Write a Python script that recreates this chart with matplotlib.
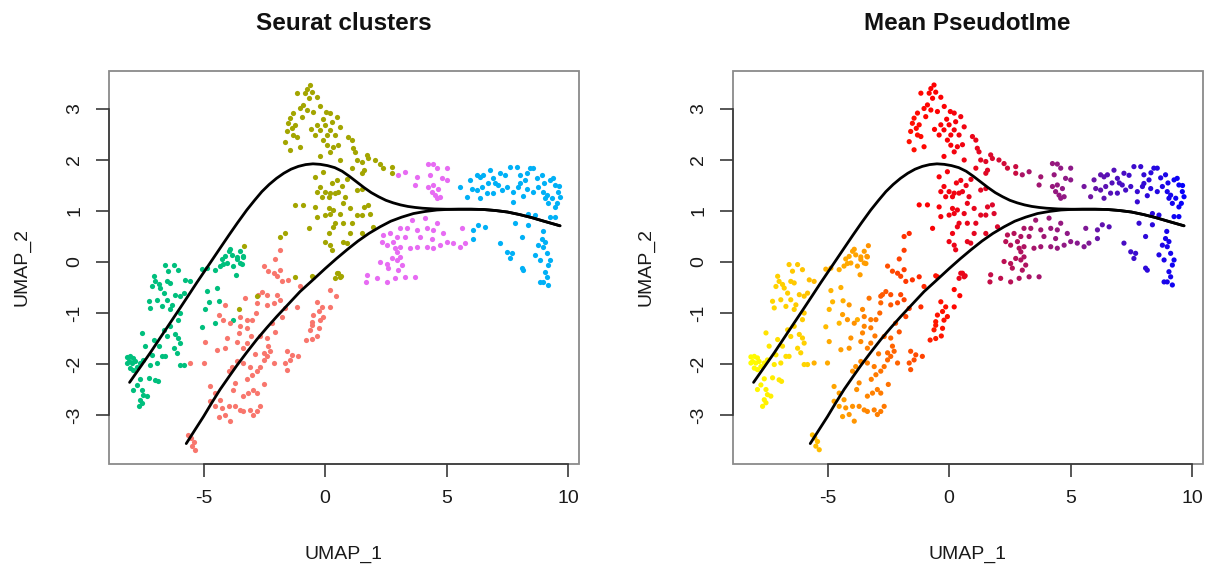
import numpy as np
import matplotlib
matplotlib.use("Agg")
import matplotlib.pyplot as plt
from matplotlib.colors import LinearSegmentedColormap

plt.rcParams['font.family'] = ['Liberation Sans', 'DejaVu Sans']
plt.rcParams['axes.unicode_minus'] = False

# UMAP coordinates per Seurat cluster: (UMAP_1, UMAP_2, mean pseudotime)
green_pts = [
    (-3.97, 0.21, 5.0), (-4.11, 0.11, 4.8), (-3.84, 0.14, 5.0), (-3.63, 0.05, 5.2),
    (-4.25, 0.06, 4.8), (-4.04, -0.02, 4.9), (-3.49, -0.02, 5.3), (-3.38, 0.11, 5.3),
    (-3.77, -0.08, 5.1), (-4.32, -0.08, 4.7), (-4.52, -0.15, 4.6), (-4.86, -0.12, 4.4),
    (-5.07, -0.14, 4.3), (-3.66, -0.25, 5.2), (-3.90, 0.25, 5.1), (-3.49, 0.21, 5.3),
    (-3.63, 0.10, 5.2), (-3.36, 0.10, 5.4), (-3.42, -0.03, 5.3), (-4.18, -0.03, 4.8),
    (-6.58, -0.05, 3.0), (-6.23, -0.05, 3.2), (-6.03, -0.15, 3.3), (-6.44, -0.18, 3.0),
    (-7.05, -0.28, 2.6), (-6.99, -0.38, 2.6), (-6.85, -0.44, 2.7), (-6.51, -0.38, 2.9),
    (-6.37, -0.41, 3.0), (-5.75, -0.35, 3.6), (-5.55, -0.38, 3.8), (-7.12, -0.48, 2.5),
    (-6.78, -0.51, 2.7), (-6.64, -0.61, 2.8), (-6.16, -0.64, 3.1), (-5.96, -0.67, 3.3),
    (-5.82, -0.61, 3.4), (-6.51, -0.74, 2.8), (-6.92, -0.74, 2.6), (-7.26, -0.77, 2.4),
    (-6.71, -0.87, 2.6), (-6.30, -0.84, 2.9), (-7.19, -0.90, 2.3), (-6.37, -0.93, 2.8),
    (-5.96, -1.00, 3.0), (-6.03, -1.13, 2.9), (-6.37, -1.26, 2.6), (-6.64, -1.33, 2.4),
    (-4.86, -0.56, 4.2), (-4.45, -0.50, 4.5), (-4.36, -0.76, 4.4), (-4.79, -0.78, 4.1),
    (-4.93, -0.93, 4.0), (-5.07, -1.27, 3.8), (-4.52, -1.20, 4.1), (-3.77, -1.13, 4.6),
    (-7.53, -1.39, 1.6), (-7.40, -1.65, 1.4), (-7.05, -1.52, 1.8), (-6.85, -1.65, 1.9),
    (-6.51, -1.46, 2.2), (-6.16, -1.42, 2.5), (-6.03, -1.49, 2.6), (-5.96, -1.59, 2.6),
    (-6.23, -1.69, 2.3), (-6.58, -1.85, 2.0), (-6.71, -1.85, 1.9), (-6.10, -1.78, 2.4),
    (-5.96, -2.01, 2.4), (-5.82, -2.01, 2.5), (-6.92, -1.98, 1.6), (-8.15, -1.86, 0.2),
    (-8.01, -1.85, 0.3), (-7.88, -1.88, 0.4), (-8.08, -1.95, 0.2), (-7.95, -1.98, 0.3),
    (-7.81, -1.95, 0.5), (-7.74, -2.05, 0.5), (-8.15, -1.98, 0.1), (-7.60, -1.98, 0.7),
    (-7.47, -1.92, 0.8), (-8.01, -2.08, 0.3), (-7.88, -2.11, 0.4), (-7.19, -2.01, 1.2),
    (-7.12, -1.82, 1.3), (-6.99, -2.31, 1.3), (-6.89, -2.34, 1.4), (-7.26, -2.27, 1.0),
    (-7.60, -2.29, 0.7), (-7.74, -2.41, 0.6), (-7.88, -2.50, 0.5), (-7.53, -2.50, 0.8),
    (-7.47, -2.60, 0.8), (-7.60, -2.70, 0.7), (-7.53, -2.76, 0.8), (-7.33, -2.63, 0.9),
    (-7.67, -2.83, 0.6),
]

salmon_pts = [
    (-1.85, 0.23, 8.2), (-2.05, 0.06, 8.0), (-2.53, -0.08, 7.6), (-2.33, -0.18, 7.8),
    (-2.12, -0.22, 8.0), (-1.85, -0.15, 8.2), (-1.99, -0.28, 8.0), (-1.78, -0.38, 8.3),
    (-1.51, -0.35, 8.5), (-2.60, -0.58, 7.4), (-2.74, -0.64, 7.2), (-2.40, -0.64, 7.6),
    (-1.99, -0.64, 7.9), (-1.85, -0.74, 8.0), (-2.12, -0.80, 7.7), (-2.40, -0.84, 7.4),
    (-2.81, -0.80, 7.0), (-3.29, -0.71, 6.5), (-4.11, -0.84, 5.4), (-4.38, -1.03, 5.2),
    (-4.18, -1.13, 5.4), (-3.90, -1.20, 5.7), (-3.49, -1.07, 6.1), (-3.22, -1.13, 6.3),
    (-3.01, -1.13, 6.5), (-3.49, -1.26, 6.0), (-3.22, -1.29, 6.3), (-3.56, -1.39, 6.0),
    (-4.04, -1.49, 5.6), (-3.63, -1.56, 5.9), (-3.22, -1.59, 6.3), (-3.36, -1.69, 6.2),
    (-4.11, -1.69, 5.5), (-4.93, -1.56, 4.8), (-4.45, -1.72, 5.2), (-5.55, -1.98, 4.3),
    (-5.00, -1.98, 4.8), (-3.97, -2.14, 5.6), (-3.84, -2.05, 5.7), (-3.63, -1.95, 5.9),
    (-3.36, -1.98, 6.1), (-3.08, -2.05, 6.3), (-3.01, -2.21, 6.3), (-2.81, -2.14, 6.5),
    (-2.67, -2.05, 6.6), (-2.53, -1.92, 6.8), (-2.40, -1.85, 6.9), (-2.26, -1.75, 7.0),
    (-2.12, -1.98, 7.0), (-2.53, -1.78, 6.8), (-2.33, -1.65, 7.0), (-2.67, -1.46, 6.8),
    (-2.40, -1.49, 7.0), (-1.58, -1.75, 7.6), (-1.44, -1.92, 7.7), (-1.64, -1.98, 7.5),
    (-1.37, -1.82, 7.8), (-1.10, -1.85, 8.0), (-1.58, -2.11, 7.5), (-3.70, -2.37, 5.8),
    (-4.73, -2.44, 5.0), (-4.52, -2.57, 5.2), (-4.32, -2.70, 5.3), (-4.52, -2.83, 5.1),
    (-4.25, -2.86, 5.4), (-3.97, -2.83, 5.6), (-3.70, -2.83, 5.8), (-3.49, -2.90, 5.9),
    (-3.36, -2.93, 6.0), (-3.08, -2.90, 6.1), (-2.95, -2.99, 6.2), (-2.81, -2.93, 6.3),
    (-2.67, -2.83, 6.4), (-2.95, -2.50, 6.2), (-2.81, -2.57, 6.3), (-3.15, -2.57, 6.1),
    (-3.36, -2.63, 6.0), (-3.90, -3.12, 5.5), (-4.11, -2.99, 5.4), (-4.38, -3.03, 5.2),
    (-4.73, -2.73, 5.0), (-5.62, -3.39, 3.6), (-5.52, -3.45, 3.7), (-5.41, -3.52, 3.7),
    (-5.48, -3.61, 3.6), (-5.34, -3.68, 3.7),
    (-2.90, -1.80, 6.4), (-2.20, -1.20, 7.3), (-3.80, -2.50, 5.7), (-3.20, -2.30, 6.1),
    (-2.50, -2.40, 6.6), (-3.05, -1.45, 6.4), (-2.85, -1.00, 6.9),
    (0.21, -0.54, 9.8), (0.44, -0.66, 9.9), (-0.34, -0.78, 9.5), (-0.14, -0.88, 9.6),
    (-0.27, -0.97, 9.5), (-0.48, -1.04, 9.4), (-0.07, -1.07, 9.6), (-0.21, -1.14, 9.5),
    (-0.55, -1.17, 9.3), (-0.55, -1.24, 9.3), (-0.27, -1.30, 9.4), (-0.78, -1.53, 9.1),
    (-0.55, -1.50, 9.2), (-0.32, -1.45, 9.3), (0.21, -0.88, 9.8), (-0.62, -1.33, 9.2),
    (-1.03, -0.48, 8.8), (-1.16, -0.88, 8.6), (-1.64, -0.91, 8.2), (-1.78, -1.07, 8.0),
    (-2.05, -1.37, 7.5),
]

olive_pts = [
    (-0.62, 3.47, 10.0), (-0.75, 3.40, 10.0), (-0.55, 3.33, 10.0), (-0.82, 3.31, 9.9),
    (-1.16, 3.31, 9.8), (-0.34, 3.23, 10.1), (-0.68, 3.21, 10.0), (-0.89, 3.08, 9.9),
    (-1.03, 3.01, 9.8), (-0.75, 2.98, 9.9), (-0.48, 2.95, 10.0), (-1.30, 2.92, 9.7),
    (-1.44, 2.82, 9.6), (-0.96, 2.85, 9.8), (-1.51, 2.72, 9.6), (-1.23, 2.69, 9.7),
    (-1.58, 2.56, 9.6), (-1.30, 2.49, 9.7), (-1.16, 2.46, 9.7), (-1.64, 2.36, 9.5),
    (-1.44, 2.20, 9.6), (-1.03, 2.26, 9.8), (0.21, 2.92, 10.4), (0.48, 2.85, 10.5),
    (-0.34, 2.69, 10.1), (0.00, 2.69, 10.2), (0.27, 2.75, 10.4), (0.62, 2.65, 10.6),
    (-0.21, 2.59, 10.2), (0.21, 2.59, 10.4), (-0.41, 2.49, 10.1), (0.07, 2.49, 10.3),
    (0.41, 2.49, 10.5), (-0.07, 2.39, 10.2), (0.96, 2.46, 10.8), (1.10, 2.39, 10.9),
    (0.07, 2.29, 10.3), (0.34, 2.26, 10.5), (0.21, 2.16, 10.5), (-0.21, 2.07, 10.3),
    (1.16, 2.23, 11.0), (1.23, 2.16, 11.1), (1.30, 2.00, 11.2), (1.51, 1.97, 11.4),
    (1.71, 2.10, 11.5), (1.78, 2.03, 11.6), (2.05, 2.00, 11.8), (2.26, 1.93, 12.0),
    (2.40, 1.84, 12.1), (2.74, 1.87, 12.3), (2.74, 1.74, 12.3), (1.58, 1.80, 11.4),
    (1.51, 1.74, 11.3), (1.10, 1.84, 11.0), (0.62, 2.00, 10.7),
    (-0.20, 3.05, 10.1), (0.05, 2.95, 10.2), (-0.10, 2.80, 10.2), (0.55, 2.30, 10.6),
    (-1.35, 2.62, 9.7), (-0.60, 2.60, 10.0),
    (0.48, 1.60, 10.7), (0.70, 1.50, 10.9), (0.90, 1.62, 11.0), (0.30, 1.55, 10.6),
    (0.82, 1.28, 11.0),
    (-0.41, 1.67, 10.3), (-0.07, 1.77, 10.4), (-0.21, 1.48, 10.4), (-0.34, 1.38, 10.4),
    (0.00, 1.38, 10.5), (0.21, 1.35, 10.6), (0.41, 1.35, 10.7), (-0.14, 1.28, 10.5),
    (0.14, 1.28, 10.6), (0.55, 1.38, 10.8), (1.30, 1.41, 11.2), (1.51, 1.44, 11.3),
    (-1.23, 1.12, 10.0), (-0.89, 1.12, 10.1), (-0.41, 1.08, 10.3), (0.14, 1.05, 10.6),
    (0.34, 1.02, 10.7), (0.75, 1.15, 10.9), (1.03, 1.05, 11.0), (1.58, 1.08, 11.3),
    (1.78, 1.12, 11.5), (0.21, 0.95, 10.7), (0.00, 0.92, 10.6), (0.62, 0.95, 10.9),
    (-0.34, 0.89, 10.4), (1.30, 0.92, 11.2), (1.51, 0.92, 11.3), (1.85, 0.95, 11.5),
    (1.10, 0.76, 11.1), (0.75, 0.76, 10.9), (0.41, 0.76, 10.8), (-0.68, 0.66, 10.2),
    (0.14, 0.56, 10.7), (1.03, 0.56, 11.1), (1.51, 0.56, 11.3), (1.99, 0.69, 11.6),
    (-1.64, 0.56, 8.8), (0.00, 0.40, 10.7), (0.75, 0.40, 11.0), (0.89, 0.37, 11.1),
    (0.21, 0.33, 10.8), (0.27, 0.24, 10.8), (-0.48, -0.29, 9.5), (-1.23, -0.29, 8.8),
    (0.55, -0.22, 10.9), (0.62, -0.29, 11.0), (0.41, -0.32, 10.9), (-1.85, 0.50, 8.5),
    (0.34, 0.69, 10.8), (-3.32, 0.32, 5.6), (-2.81, -0.67, 7.3), (-3.56, -0.93, 5.9),
    (-0.55, -0.27, 9.5), (0.48, -0.22, 10.9), (0.66, -0.27, 11.0),
]

magenta_pts = [
    (3.01, 1.71, 13.6), (3.29, 1.77, 13.8), (3.77, 1.67, 14.0), (3.70, 1.51, 14.0),
    (4.25, 1.93, 14.5), (4.45, 1.92, 14.6), (4.59, 1.84, 14.7), (5.00, 1.84, 14.9),
    (4.32, 1.71, 14.5), (4.79, 1.64, 14.8), (5.00, 1.61, 14.9), (4.45, 1.51, 14.6),
    (4.25, 1.48, 14.5), (4.66, 1.44, 14.7), (4.38, 1.38, 14.6), (4.52, 1.31, 14.6),
    (4.73, 1.28, 14.7), (4.59, 1.25, 14.7),
    (3.56, 0.82, 14.0), (4.11, 0.86, 14.3), (4.59, 0.76, 14.6), (3.08, 0.66, 13.6),
    (3.36, 0.66, 13.8), (3.77, 0.63, 14.0), (4.18, 0.66, 14.3), (4.45, 0.63, 14.5),
    (5.62, 0.66, 15.4), (2.40, 0.53, 13.0), (2.67, 0.56, 13.2), (2.95, 0.50, 13.5),
    (3.29, 0.50, 13.7), (3.90, 0.50, 14.1), (4.38, 0.46, 14.4), (4.86, 0.56, 14.8),
    (2.33, 0.40, 13.0), (2.81, 0.40, 13.3), (3.08, 0.30, 13.5), (3.49, 0.27, 13.8),
    (3.77, 0.30, 14.0), (4.18, 0.30, 14.3), (4.45, 0.27, 14.5), (4.73, 0.33, 14.7),
    (5.00, 0.40, 14.9), (5.27, 0.37, 15.1), (5.55, 0.30, 15.3), (5.75, 0.37, 15.4),
    (2.53, 0.33, 13.1), (2.88, 0.27, 13.3), (2.95, 0.20, 13.4), (2.74, 0.07, 13.2),
    (2.95, 0.04, 13.4), (3.08, 0.10, 13.5), (2.26, 0.01, 12.9), (2.53, -0.03, 13.1),
    (2.60, -0.12, 13.1), (3.01, -0.16, 13.4), (3.15, -0.06, 13.5), (3.29, -0.29, 13.6),
    (2.88, -0.32, 13.3), (2.53, -0.39, 13.1), (2.12, -0.32, 12.8), (1.71, -0.25, 12.5),
    (1.68, -0.39, 12.5), (3.70, -0.29, 13.9),
]

blue_pts = [
    (5.55, 1.48, 15.8), (5.96, 1.61, 16.2), (6.03, 1.44, 16.3), (5.82, 1.28, 16.0),
    (6.23, 1.71, 16.5), (6.37, 1.67, 16.6), (6.44, 1.48, 16.7), (6.23, 1.41, 16.5),
    (6.37, 1.25, 16.6), (6.64, 1.35, 16.9), (6.78, 1.80, 17.0), (6.92, 1.35, 17.2),
    (7.19, 1.74, 17.4), (7.12, 1.51, 17.4), (7.26, 1.41, 17.5), (7.60, 1.87, 17.8),
    (7.74, 1.38, 18.0), (7.88, 1.87, 18.0), (8.01, 1.71, 18.2), (8.01, 1.54, 18.2),
    (8.22, 1.61, 18.4), (8.29, 1.44, 18.5), (8.42, 1.84, 18.6), (8.56, 1.84, 18.7),
    (8.56, 1.38, 18.7), (8.77, 1.48, 18.9), (8.90, 1.71, 19.0), (8.97, 1.38, 19.1),
    (9.04, 1.25, 19.2), (9.18, 1.15, 19.3), (9.25, 1.61, 19.4), (9.38, 1.64, 19.5),
    (9.45, 1.51, 19.6), (9.59, 1.38, 19.7), (9.66, 1.28, 19.8), (9.32, 1.25, 19.4),
    (9.11, 1.31, 19.2), (9.45, 1.08, 19.6), (7.74, 1.18, 18.0), (8.36, 0.95, 18.5),
    (8.63, 0.92, 18.8), (9.25, 0.89, 19.4), (9.45, 0.89, 19.6), (7.95, 1.48, 18.1),
    (7.47, 1.48, 17.7), (6.92, 1.64, 17.2), (6.51, 1.71, 16.8),
    (7.00, 1.55, 17.3), (7.40, 1.70, 17.7), (8.15, 1.30, 18.4), (8.70, 1.65, 18.8),
    (9.55, 1.15, 19.7), (6.70, 1.55, 17.0), (8.30, 1.75, 18.5), (9.00, 1.55, 19.1),
    (9.60, 1.50, 19.8),
    (6.10, 0.63, 16.3), (6.30, 0.73, 16.5), (6.58, 0.69, 16.8), (6.10, 0.46, 16.3),
    (7.81, 0.76, 18.0), (8.36, 0.73, 18.5), (8.08, 0.50, 18.3), (7.19, 0.37, 17.4),
    (7.47, 0.20, 17.7), (7.60, 0.07, 17.8), (7.67, 0.17, 17.9), (8.08, -0.12, 18.3),
    (8.15, -0.16, 18.4), (8.63, 0.14, 18.8), (8.90, 0.46, 19.0), (9.04, 0.40, 19.2),
    (8.97, 0.30, 19.1), (9.11, 0.17, 19.2), (8.77, 0.33, 18.9), (9.25, 0.04, 19.4),
    (9.18, -0.06, 19.3), (9.04, -0.19, 19.2), (9.11, -0.29, 19.2), (8.97, -0.39, 19.1),
    (9.18, -0.45, 19.3), (8.84, 0.04, 19.0), (8.84, -0.39, 19.0), (8.95, 0.60, 19.1),
]

# slingshot principal curves (lineage 1 upper, lineage 2 lower)
curve1_x = [-8.04, -7.60, -7.19, -6.80, -6.38, -5.96, -5.60, -5.27, -4.73, -4.32,
            -3.95, -3.60, -3.22, -2.90, -2.60, -2.30, -2.00, -1.70, -1.40, -1.10,
            -0.80, -0.50, -0.20, 0.10, 0.40, 0.70, 1.00, 1.30, 1.60, 1.90,
            2.20, 2.50, 2.80, 3.10, 3.40, 3.70, 4.00, 4.50, 5.00, 5.50,
            6.00, 6.50, 7.00, 7.50, 8.00, 8.50, 9.00, 9.66]
curve1_y = [-2.36, -2.06, -1.78, -1.50, -1.20, -0.90, -0.64, -0.40, -0.02, 0.27,
            0.53, 0.77, 1.02, 1.21, 1.38, 1.52, 1.64, 1.74, 1.82, 1.875,
            1.91, 1.925, 1.915, 1.89, 1.85, 1.78, 1.68, 1.57, 1.46, 1.36,
            1.28, 1.21, 1.16, 1.12, 1.09, 1.07, 1.055, 1.04, 1.035, 1.035,
            1.035, 1.03, 1.01, 0.98, 0.93, 0.87, 0.80, 0.71]
curve2_x = [-5.71, -5.35, -5.00, -4.66, -4.32, -3.97, -3.63, -3.22, -2.81, -2.40,
            -1.99, -1.50, -1.03, -0.50, 0.00, 0.45, 0.90, 1.35, 1.80, 2.26,
            2.70, 3.15, 3.63, 4.10, 4.60, 5.00, 5.50, 6.00, 6.50, 7.00,
            7.50, 8.00, 8.50, 9.00, 9.66]
curve2_y = [-3.56, -3.29, -3.03, -2.76, -2.50, -2.26, -2.03, -1.77, -1.52, -1.29,
            -1.07, -0.82, -0.58, -0.35, -0.13, 0.06, 0.24, 0.41, 0.56, 0.69,
            0.80, 0.88, 0.95, 0.99, 1.02, 1.03, 1.035, 1.035, 1.03, 1.01,
            0.98, 0.93, 0.87, 0.80, 0.71]

cluster_cols = ['#00BF7D', '#F8766D', '#A3A500', '#E76BF3', '#00B0F6']
clusters = [green_pts, salmon_pts, olive_pts, magenta_pts, blue_pts]

pt_cmap = LinearSegmentedColormap.from_list(
    'ptime', ['#FFFF00', '#FFA500', '#FF0000', '#8B1A8B', '#0000FF'])

fig = plt.figure(figsize=(12.12, 5.69), dpi=100)
W, H = 1212.0, 569.0
ax_l = fig.add_axes([109 / W, 1 - 464 / H, 469.5 / W, 393 / H])
ax_r = fig.add_axes([733 / W, 1 - 464 / H, 469.5 / W, 393 / H])


def style_axes(ax, title):
    ax.set_xlim(-8.886, 10.42)
    ax.set_ylim(-3.96, 3.745)
    ax.set_xticks([-5, 0, 5, 10])
    ax.set_yticks([-3, -2, -1, 0, 1, 2, 3])
    for s in ['top', 'right']:
        ax.spines[s].set_visible(False)
    ax.spines['left'].set_bounds(-3, 3)
    ax.spines['bottom'].set_bounds(-5, 10)
    for s in ['left', 'bottom']:
        ax.spines[s].set_color('#3a3a3a')
        ax.spines[s].set_linewidth(1.2)
    ax.patch.set_edgecolor('#8a8a8a')
    ax.patch.set_linewidth(1.3)
    ax.tick_params(length=9.4, width=1.2, color='#3a3a3a', pad=9.0,
                   labelsize=14, labelcolor='#1a1a1a')
    ax.tick_params(axis='y', labelrotation=90)
    for lab in ax.get_yticklabels():
        lab.set_va('center')
    ax.text(0.5, -90 / 393, 'UMAP_1', transform=ax.transAxes, ha='center',
            va='center', fontsize=14, color='#1a1a1a')
    ax.text(-87 / 469.5, 0.5, 'UMAP_2', transform=ax.transAxes, ha='center',
            va='center', rotation=90, fontsize=14, color='#1a1a1a')
    ax.text(0.5, 1 + 47 / 393, title, transform=ax.transAxes, ha='center',
            va='center', fontsize=17.5, fontweight='bold', color='#111111')


def draw_curves(ax):
    ax.plot(curve1_x, curve1_y, color='black', lw=2.0, solid_capstyle='round')
    ax.plot(curve2_x, curve2_y, color='black', lw=2.0, solid_capstyle='round')


# left: coloured by cluster
for pts, col in zip(clusters, cluster_cols):
    arr = np.array(pts)
    ax_l.scatter(arr[:, 0], arr[:, 1], s=14, c=col, linewidths=0)
draw_curves(ax_l)
style_axes(ax_l, 'Seurat clusters')

# right: coloured by mean pseudotime
allpts = np.vstack([np.array(p) for p in clusters])
order = np.argsort(allpts[:, 2])
ax_r.scatter(allpts[order, 0], allpts[order, 1], s=14, c=allpts[order, 2],
             cmap=pt_cmap, vmin=0, vmax=20, linewidths=0)
draw_curves(ax_r)
style_axes(ax_r, 'Mean PseudotIme')

fig.savefig('out.png', dpi=100)
